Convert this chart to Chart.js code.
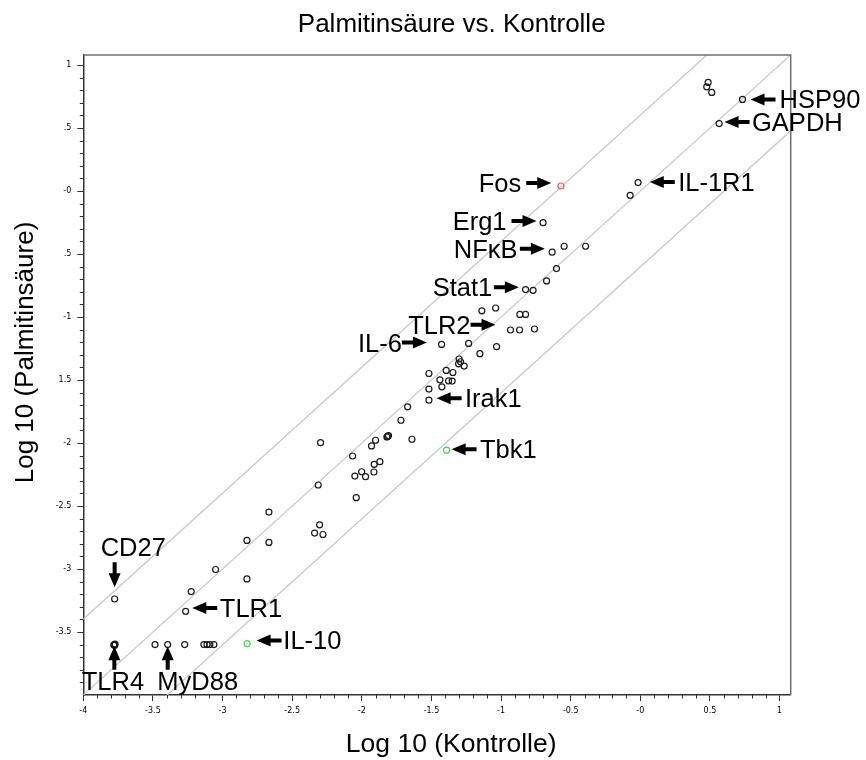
<!DOCTYPE html>
<html>
<head>
<meta charset="utf-8">
<title>Palmitinsäure vs. Kontrolle</title>
<script src="https://cdn.jsdelivr.net/npm/chart.js@4.4.1/dist/chart.umd.min.js"></script>
<style>
  html, body { margin: 0; padding: 0; background: #fff; }
  canvas { display: block; }
</style>
</head>
<body>
<canvas id="scatter" width="866" height="760"></canvas>
<script>
// log10 expression: control (x) vs. palmitic acid (y), unlabelled genes
const controlLog = [
  0.487, 0.477, 0.513, -0.073, -0.547, -0.393, -0.602, -0.673, -0.770, -1.138,
  -1.039, -0.865, -0.824, -0.867, -0.760, -1.233, -1.032, -1.152, -1.301, -1.291,
  -1.305, -1.265, -1.518, -1.394, -1.346, -1.439, -1.377, -1.351, -1.518, -1.425,
  -1.671, -1.719, -2.296, -2.066, -1.930, -1.901, -1.820, -1.808, -1.815, -1.640,
  -2.313, -2.050, -2.001, -1.973, -1.911, -1.870, -1.913, -2.040, -2.667, -2.303,
  -2.339, -2.279, -2.825, -2.667, -3.050, -2.825, -3.225, -3.485, -3.272, -3.134,
  -3.112, -3.091, -3.062, -3.772, -3.781, -3.774
];
const palmitateLog = [
  0.862, 0.827, 0.783, -0.034, -0.438, -0.438, -0.615, -0.713, -0.788, -0.951,
  -0.928, -0.979, -0.979, -1.103, -1.095, -1.209, -1.235, -1.291, -1.333, -1.355,
  -1.371, -1.389, -1.448, -1.424, -1.440, -1.498, -1.506, -1.508, -1.572, -1.554,
  -1.713, -1.819, -1.997, -2.103, -2.023, -1.978, -1.952, -1.941, -1.946, -1.970,
  -2.333, -2.262, -2.228, -2.267, -2.169, -2.148, -2.230, -2.434, -2.548, -2.649,
  -2.715, -2.726, -2.773, -2.789, -3.004, -3.079, -3.179, -3.600, -3.600, -3.600,
  -3.600, -3.600, -3.600, -3.596, -3.604, -3.606
];

// labelled genes
const namedGenes = ['HSP90', 'GAPDH', 'IL-1R1', 'Fos', 'Erg1', 'NFκB', 'Stat1', 'TLR2',
  'IL-6', 'Irak1', 'Tbk1', 'CD27', 'TLR1', 'IL-10', 'TLR4', 'MyD88'];
const namedControl = [0.734, 0.566, -0.016, -0.570, -0.698, -0.633, -0.824, -0.932,
  -1.427, -1.518, -1.391, -3.775, -3.265, -2.823, -3.777, -3.394];
const namedPalmitate = [0.727, 0.536, 0.067, 0.040, -0.251, -0.485, -0.782, -1.103,
  -1.217, -1.660, -2.057, -3.238, -3.336, -3.593, -3.600, -3.600];
const namedRegulation = ['none', 'none', 'none', 'up', 'none', 'none', 'none', 'none',
  'none', 'none', 'down', 'none', 'none', 'down', 'none', 'none'];

// fold-change guide lines (log10 offsets from the diagonal)
const guideOffsets = [0.602, 0, -0.602];

// axis range and ticks
const axisMin = -4;
const axisMax = 1.08;
const xTickValues = [-4, -3.5, -3, -2.5, -2, -1.5, -1, -0.5, 0, 0.5, 1];
const xTickLabels = ['-4', '-3.5', '-3', '-2.5', '-2', '-1.5', '-1', '-0.5', '-0', '0.5', '1'];
const yTickValues = [-3.5, -3, -2.5, -2, -1.5, -1, -0.5, 0, 0.5, 1];
const yTickLabels = ['-3.5', '-3', '-2.5', '-2', '1.5', '-1', '.5', '-0', '.5', '1'];

const chartTitle = 'Palmitinsäure vs. Kontrolle';
const xTitle = 'Log 10 (Kontrolle)';
const yTitle = 'Log 10 (Palmitinsäure)';

// ---- styling ----
const regulationColor = { none: '#1a1a1a', up: '#ff5252', down: '#3fe03f' };
const textFont = '"Liberation Sans", Arial, Helvetica, sans-serif';
const tickFont = { family: '"DejaVu Sans", Verdana, sans-serif', size: 8 };

// callout placement relative to the labelled point (pixels)
const calloutLayout = {
  'HSP90':  { dir: 'left',  dx: 8,    dy: 0,    gap: 4 },
  'GAPDH':  { dir: 'left',  dx: 5.4,  dy: -1.6, gap: 2.5 },
  'IL-1R1': { dir: 'left',  dx: 11.7, dy: -0.6, gap: 3.4 },
  'Irak1':  { dir: 'left',  dx: 7.7,  dy: -2,   gap: 3.3 },
  'Tbk1':   { dir: 'left',  dx: 5,    dy: -1,   gap: 3.3 },
  'IL-10':  { dir: 'left',  dx: 9.4,  dy: -3.3, gap: 1.7 },
  'TLR1':   { dir: 'left',  dx: 6.6,  dy: -3.3, gap: 2.6 },
  'Fos':    { dir: 'right', dx: -9.7, dy: -3,   gap: 5 },
  'Erg1':   { dir: 'right', dx: -6.6, dy: -1.6, gap: 5 },
  'NFκB':   { dir: 'right', dx: -7.3, dy: -3.4, gap: 2.3 },
  'Stat1':  { dir: 'right', dx: -6.7, dy: -2.3, gap: 1.6 },
  'TLR2':   { dir: 'right', dx: -15,  dy: -5.3, gap: 0 },
  'IL-6':   { dir: 'right', dx: -14.7, dy: -1.8, gap: 0 },
  'CD27':   { dir: 'down',  dy: -11.7, tdx: 18.6, tdy: -43.4 },
  'TLR4':   { dir: 'up',    dy: 1.7,  tdx: -32.6, tdy: 45 },
  'MyD88':  { dir: 'up',    dy: 1.7,  tdx: -10.4, tdy: 45 }
};
const arrowLength = 25;
const arrowHead = 14;
const arrowHeadHalf = 6;
const arrowShaftHalf = 2;
const calloutSize = 25.5;

function drawArrow(ctx, tipX, tipY, ux, uy, len) {
  // (ux, uy): unit vector from tail to tip
  const px = -uy, py = ux;
  const baseX = tipX - ux * arrowHead, baseY = tipY - uy * arrowHead;
  const tailX = tipX - ux * len, tailY = tipY - uy * len;
  ctx.beginPath();
  ctx.moveTo(tipX, tipY);
  ctx.lineTo(baseX + px * arrowHeadHalf, baseY + py * arrowHeadHalf);
  ctx.lineTo(baseX + px * arrowShaftHalf, baseY + py * arrowShaftHalf);
  ctx.lineTo(tailX + px * arrowShaftHalf, tailY + py * arrowShaftHalf);
  ctx.lineTo(tailX - px * arrowShaftHalf, tailY - py * arrowShaftHalf);
  ctx.lineTo(baseX - px * arrowShaftHalf, baseY - py * arrowShaftHalf);
  ctx.lineTo(baseX - px * arrowHeadHalf, baseY - py * arrowHeadHalf);
  ctx.closePath();
  ctx.fill();
}

// top/right frame, minor ticks, titles and gene callouts
const decorations = {
  id: 'decorations',
  afterDraw(chart) {
    const { ctx, chartArea: a, scales: { x, y } } = chart;
    ctx.save();

    // frame on the top and right edges
    ctx.strokeStyle = '#6e6e6e';
    ctx.lineWidth = 1.5;
    ctx.beginPath();
    ctx.moveTo(a.left, a.top);
    ctx.lineTo(a.right, a.top);
    ctx.lineTo(a.right, a.bottom);
    ctx.stroke();

    // minor ticks every 0.1
    ctx.strokeStyle = '#333';
    ctx.lineWidth = 1;
    ctx.beginPath();
    for (let i = -39; i <= 10; i++) {
      if (i % 5 === 0) continue;
      const v = i / 10;
      const xp = Math.round(x.getPixelForValue(v)) + 0.5;
      ctx.moveTo(xp, a.bottom);
      ctx.lineTo(xp, a.bottom + 3.5);
      const yp = Math.round(y.getPixelForValue(v)) + 0.5;
      ctx.moveTo(a.left - 3.5, yp);
      ctx.lineTo(a.left, yp);
    }
    ctx.stroke();

    // titles
    ctx.fillStyle = '#000';
    ctx.textBaseline = 'alphabetic';
    ctx.textAlign = 'center';
    ctx.font = '26px ' + textFont;
    ctx.fillText(chartTitle, 451.7, 31.7);
    ctx.font = '26.5px ' + textFont;
    ctx.fillText(xTitle, 451.2, 752.3);
    ctx.save();
    ctx.translate(33.3, 352.5);
    ctx.rotate(-Math.PI / 2);
    ctx.font = '26px ' + textFont;
    ctx.fillText(yTitle, 0, 0);
    ctx.restore();

    // callouts
    ctx.font = calloutSize + 'px ' + textFont;
    namedGenes.forEach((name, i) => {
      const lay = calloutLayout[name];
      if (!lay) return;
      const px = x.getPixelForValue(namedControl[i]);
      const py = y.getPixelForValue(namedPalmitate[i]);
      if (lay.dir === 'left') {
        const tipX = px + lay.dx, ay = py + lay.dy;
        drawArrow(ctx, tipX, ay, -1, 0, arrowLength);
        ctx.textAlign = 'left';
        ctx.fillText(name, tipX + arrowLength + lay.gap, ay + 9);
      } else if (lay.dir === 'right') {
        const tipX = px + lay.dx, ay = py + lay.dy;
        drawArrow(ctx, tipX, ay, 1, 0, arrowLength);
        ctx.textAlign = 'right';
        ctx.fillText(name, tipX - arrowLength - lay.gap, ay + 9);
      } else if (lay.dir === 'down') {
        drawArrow(ctx, px, py + lay.dy, 0, 1, arrowLength);
        ctx.textAlign = 'center';
        ctx.fillText(name, px + lay.tdx, py + lay.tdy);
      } else {
        drawArrow(ctx, px, py + lay.dy, 0, -1, 23.5);
        ctx.textAlign = 'left';
        ctx.fillText(name, px + lay.tdx, py + lay.tdy);
      }
    });
    ctx.restore();
  }
};

const pointStyle = {
  pointRadius: 3,
  pointBorderWidth: 1.2,
  pointBackgroundColor: 'rgba(0,0,0,0)',
  pointHoverRadius: 3
};

const datasets = [
  Object.assign({
    label: 'Gene',
    data: controlLog.map((v, i) => ({ x: v, y: palmitateLog[i] })),
    pointBorderColor: regulationColor.none,
    order: 0
  }, pointStyle),
  Object.assign({
    label: 'Markierte Gene',
    data: namedControl.map((v, i) => ({ x: v, y: namedPalmitate[i] })),
    pointBorderColor: namedRegulation.map(r => regulationColor[r]),
    order: 0
  }, pointStyle)
];
guideOffsets.forEach(off => {
  datasets.push({
    label: 'Faktor ' + off,
    data: [{ x: axisMin, y: axisMin + off }, { x: axisMax, y: axisMax + off }],
    showLine: true,
    borderColor: '#c9c9c9',
    borderWidth: 1.3,
    pointRadius: 0,
    pointHoverRadius: 0,
    order: 1
  });
});

new Chart(document.getElementById('scatter'), {
  type: 'scatter',
  data: { datasets },
  options: {
    responsive: false,
    animation: false,
    devicePixelRatio: 1,
    events: [],
    layout: { padding: { top: 55, right: 75.3, bottom: 0, left: 0 } },
    plugins: {
      legend: { display: false },
      tooltip: { enabled: false },
      title: { display: false }
    },
    scales: {
      x: {
        type: 'linear',
        position: 'bottom',
        min: axisMin,
        max: axisMax,
        afterFit(scale) { scale.height = 65; },
        afterBuildTicks(scale) { scale.ticks = xTickValues.map(v => ({ value: v })); },
        ticks: {
          autoSkip: false,
          maxRotation: 0,
          padding: 5,
          color: '#000',
          font: tickFont,
          callback: (v) => xTickLabels[xTickValues.indexOf(v)]
        },
        grid: { drawOnChartArea: false, drawTicks: true, tickLength: 6, tickColor: '#333', tickWidth: 1 },
        border: { display: true, color: '#333', width: 1.5 }
      },
      y: {
        type: 'linear',
        position: 'left',
        min: axisMin,
        max: axisMax,
        afterFit(scale) { scale.width = 83.3; },
        afterBuildTicks(scale) { scale.ticks = yTickValues.map(v => ({ value: v })); },
        ticks: {
          autoSkip: false,
          padding: 6,
          color: '#000',
          font: tickFont,
          callback: (v) => yTickLabels[yTickValues.indexOf(v)]
        },
        grid: { drawOnChartArea: false, drawTicks: true, tickLength: 6, tickColor: '#333', tickWidth: 1 },
        border: { display: true, color: '#333', width: 1.5 }
      }
    }
  },
  plugins: [decorations]
});
</script>
</body>
</html>
